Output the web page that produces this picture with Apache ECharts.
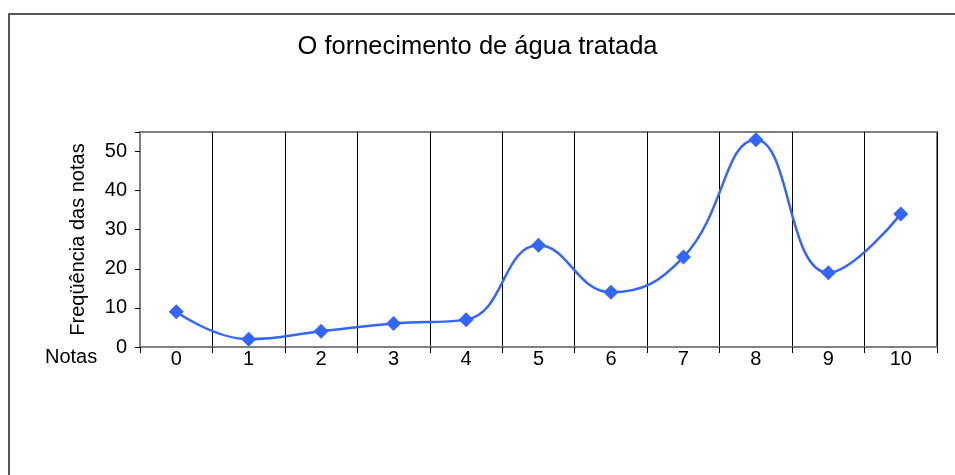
<!DOCTYPE html>
<html>
<head>
<meta charset="utf-8">
<script src="https://cdn.jsdelivr.net/npm/echarts@6/dist/echarts.min.js"></script>
<style>
  html, body { margin: 0; padding: 0; background: #fff; }
  #chart { width: 955px; height: 475px; }
</style>
</head>
<body>
<div id="chart"></div>
<script>
// dados do gráfico
const notas = ["0", "1", "2", "3", "4", "5", "6", "7", "8", "9", "10"];
const frequencias = [9, 2, 4, 6, 7, 26, 14, 23, 53, 19, 34];
const yTicks = [0, 10, 20, 30, 40, 50];

const chart = echarts.init(document.getElementById("chart"));
const font = "Liberation Sans, Arial, sans-serif";

const option = {
  backgroundColor: "#fff",
  animation: false,
  title: {
    text: "O fornecimento de água tratada",
    left: "center",
    top: 29,
    textStyle: { fontFamily: font, fontSize: 25.5, fontWeight: "normal", color: "#000" },
  },
  grid: {
    left: 140,
    top: 132,
    width: 797,
    height: 215,
    show: true,
    borderColor: "#808080",
    borderWidth: 2,
  },
  graphic: [
    {
      // moldura externa
      type: "rect",
      shape: { x: 9, y: 14, width: 1000, height: 500 },
      style: { fill: "none", stroke: "#222", lineWidth: 1.5 },
      silent: true,
    },
    {
      type: "text",
      left: 45,
      top: 347,
      style: { text: "Notas", fontFamily: font, fontSize: 20, fill: "#000" },
    },
  ],
  xAxis: {
    type: "category",
    data: notas,
    boundaryGap: true,
    axisLine: { lineStyle: { color: "#808080", width: 2 } },
    axisTick: { show: true, interval: 0, length: 6, lineStyle: { color: "#000" } },
    axisLabel: { interval: 0, margin: 2, fontFamily: font, fontSize: 20, color: "#000" },
    splitLine: { show: true, interval: 0, lineStyle: { color: "#000", width: 1 } },
  },
  yAxis: {
    type: "value",
    min: 0,
    max: 55,
    interval: 10,
    name: "Freqüência das notas",
    nameLocation: "middle",
    nameGap: 52,
    nameTextStyle: { fontFamily: font, fontSize: 20, color: "#000" },
    axisLine: { show: true, lineStyle: { color: "#808080", width: 2 } },
    axisTick: { show: true, length: 5, lineStyle: { color: "#000" } },
    axisLabel: {
      margin: 13,
      fontFamily: font,
      fontSize: 20,
      color: "#000",
      formatter: (v) => (yTicks.includes(v) ? String(v) : ""),
    },
    splitLine: { show: false },
  },
  series: [
    {
      type: "line",
      data: frequencias,
      smooth: 0.45,
      symbol: "diamond",
      symbolSize: 15,
      lineStyle: { color: "#3366FF", width: 2.5 },
      itemStyle: { color: "#3366FF" },
    },
  ],
};

chart.setOption(option);
</script>
</body>
</html>
